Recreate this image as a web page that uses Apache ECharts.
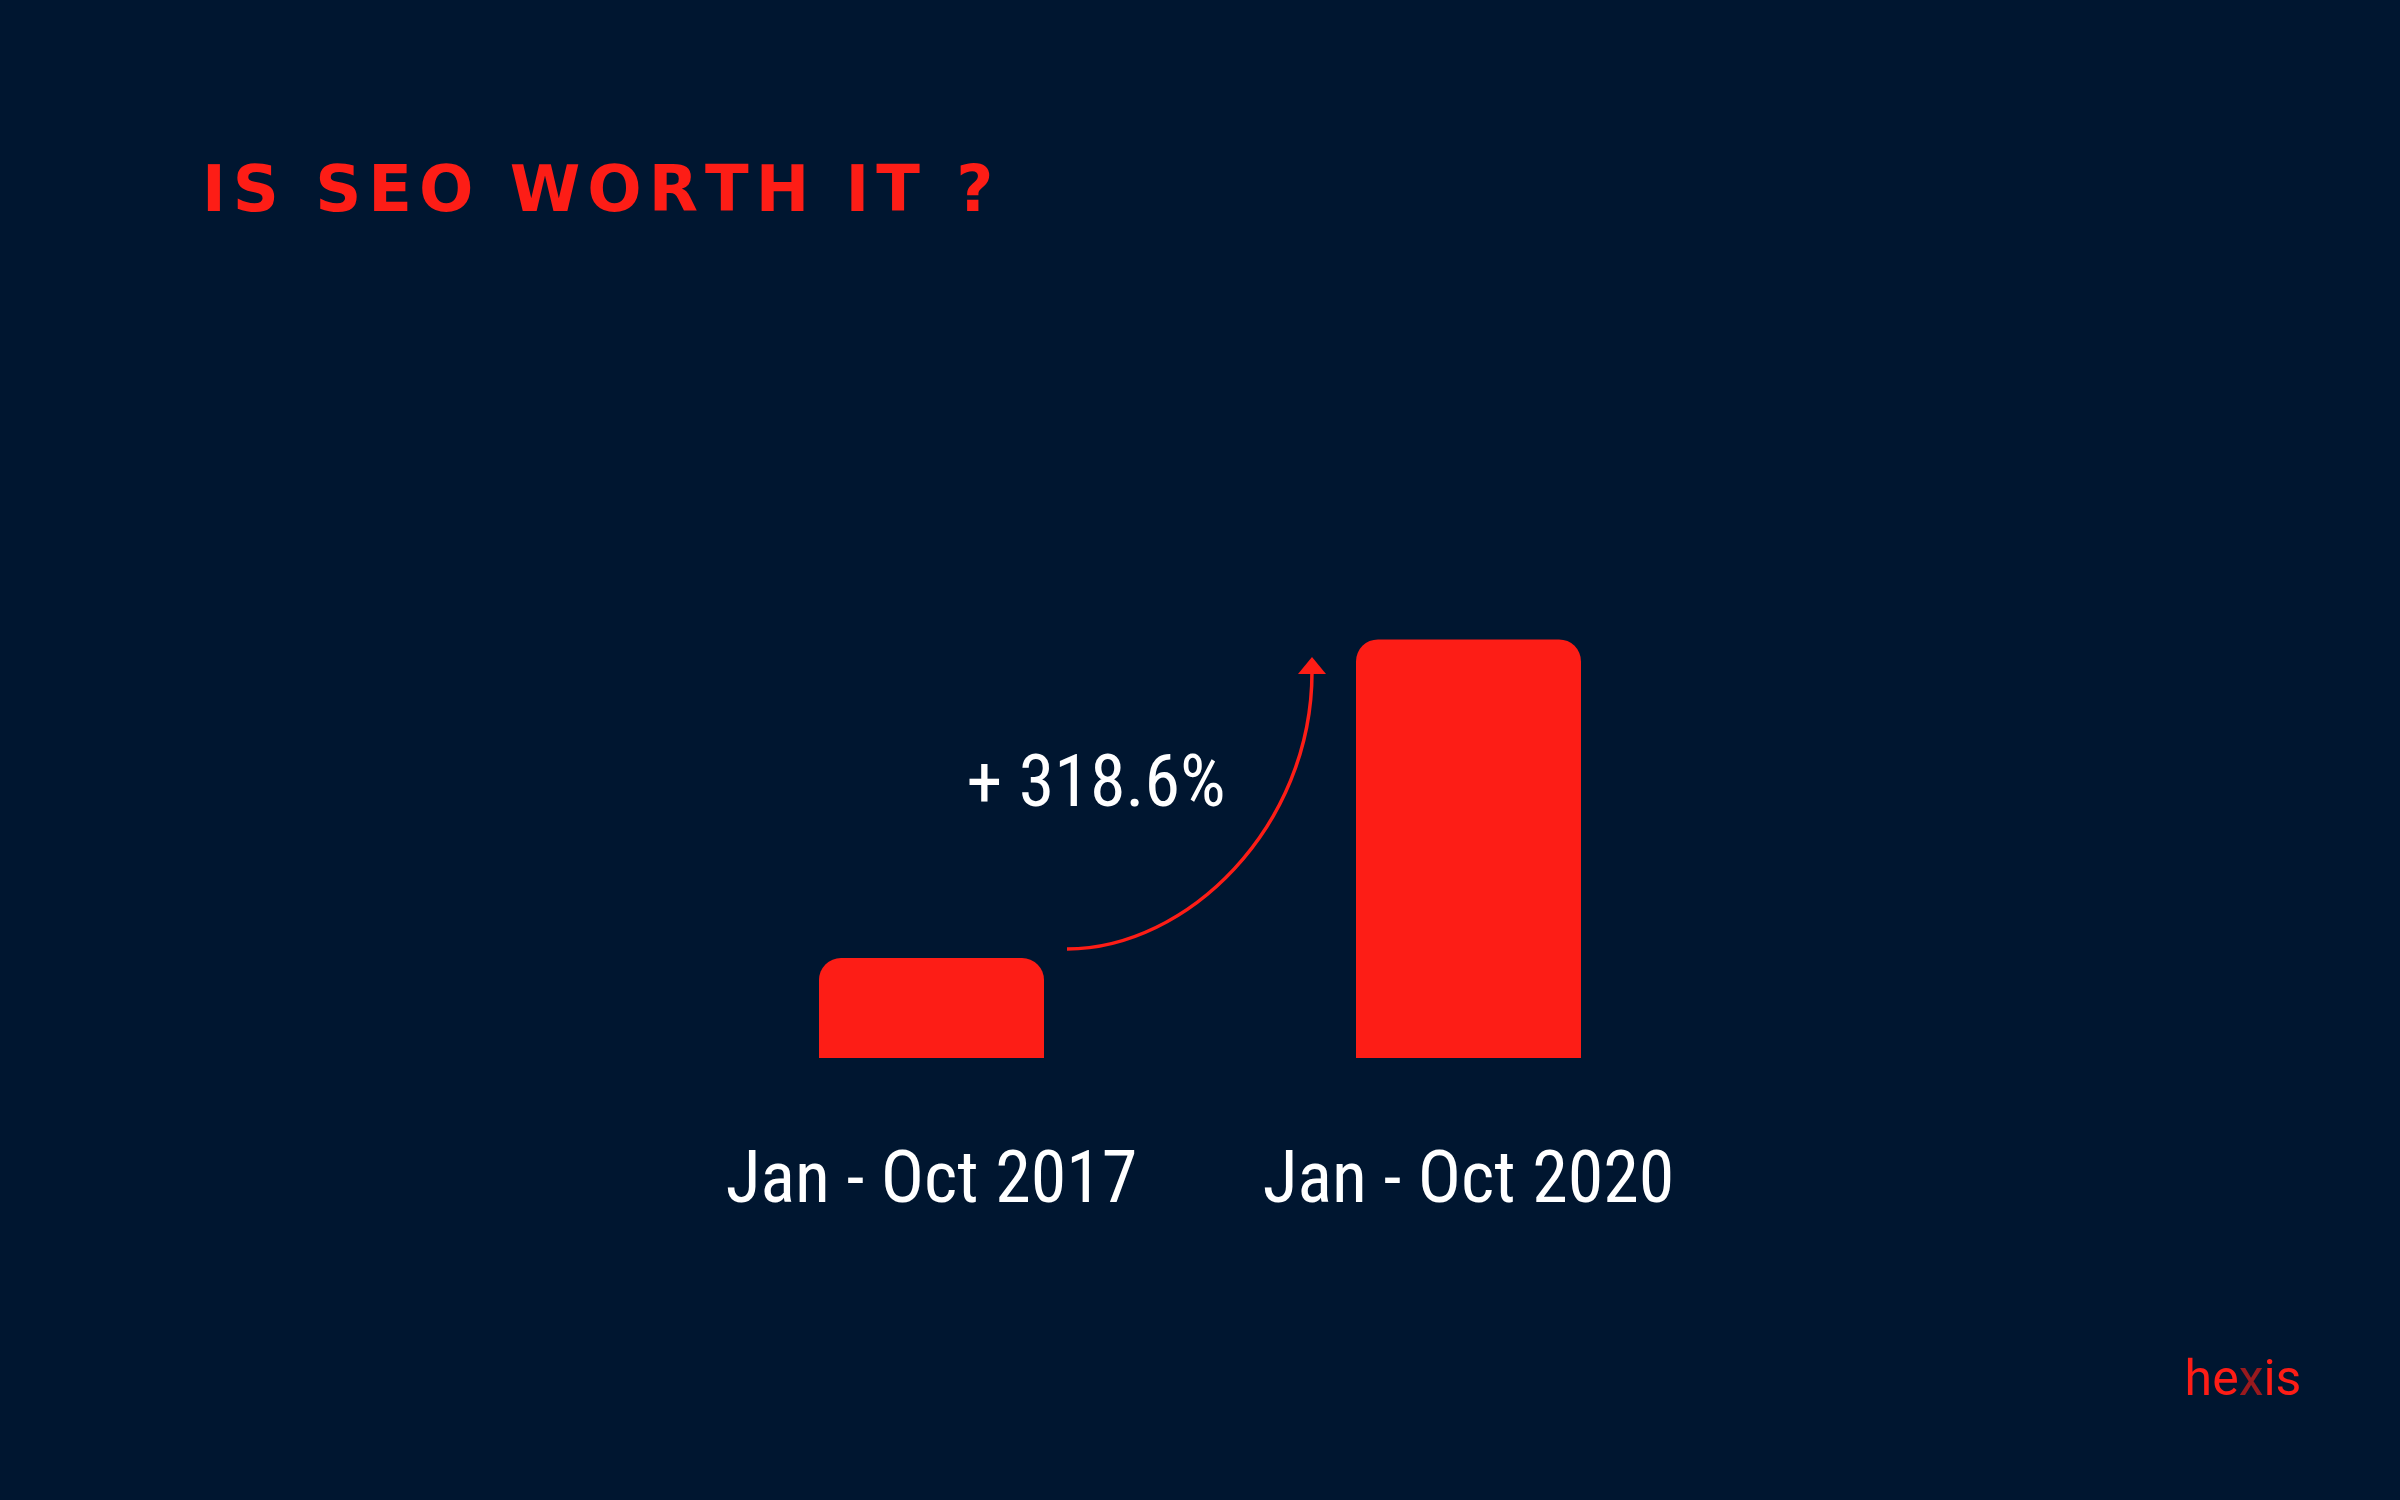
<!DOCTYPE html>
<html>
<head>
<meta charset="utf-8">
<script src="https://cdn.jsdelivr.net/npm/echarts@6/dist/echarts.min.js"></script>
<style>
html,body{margin:0;padding:0;background:#001630;}
#c{width:2400px;height:1500px;}
</style>
</head>
<body>
<div id="c"></div>
<script>
const categories = ['Jan - Oct 2017', 'Jan - Oct 2020'];
const values = [100, 418.6];
const titleText = 'IS SEO WORTH IT ?';
const brandParts = ['he', 'x', 'is'];

const RED = '#fd1d16';
const BG = '#001630';
const growth = '+ ' + ((values[1] / values[0] - 1) * 100).toFixed(1) + '%';
const NARROW = '"Liberation Sans Narrow", "Roboto Condensed", Roboto, sans-serif';

// letter-spaced title: each character as its own rich token with right padding
const titleRich = titleText.split('').map(c => '{s|' + c + '}').join('');

const chart = echarts.init(document.getElementById('c'), null, {renderer: 'canvas'});
chart.setOption({
  backgroundColor: BG,
  animation: false,
  grid: {left: 663, right: 663, top: 558, bottom: 442, containLabel: false},
  xAxis: {
    type: 'category',
    data: categories,
    axisLine: {show: false},
    axisTick: {show: false},
    axisLabel: {interval: 0, hideOverlap: false, color: '#ffffff', fontSize: 72, fontFamily: NARROW, margin: 90}
  },
  yAxis: {
    type: 'value', min: 0, max: 500,
    show: false,
    splitLine: {show: false}
  },
  series: [{
    type: 'bar',
    data: values,
    barWidth: 225,
    itemStyle: {color: RED, borderRadius: [22, 22, 0, 0]}
  }],
  graphic: [
    {
      type: 'text',
      x: 202, y: 194,
      style: {
        text: titleRich,
        align: 'left', verticalAlign: 'middle',
        rich: {
          s: {fill: RED, fontSize: 64, fontWeight: 'bold', fontFamily: 'DejaVu Sans', padding: [0, 7, 0, 0]}
        }
      }
    },
    {
      type: 'bezierCurve',
      shape: {x1: 1067, y1: 949, x2: 1312, y2: 672, cpx1: 1187, cpy1: 949, cpx2: 1312, cpy2: 827},
      style: {stroke: RED, lineWidth: 3.5, fill: null}
    },
    {
      type: 'polygon',
      shape: {points: [[1312, 657], [1298, 674], [1326, 674]]},
      style: {fill: RED}
    },
    {
      type: 'text',
      x: 1096, y: 788,
      style: {text: growth, fill: '#ffffff', fontSize: 72, fontFamily: NARROW, align: 'center', verticalAlign: 'middle'}
    },
    {
      type: 'text',
      x: 2243, y: 1382,
      style: {
        text: '{a|' + brandParts[0] + '}{b|' + brandParts[1] + '}{a|' + brandParts[2] + '}',
        align: 'center', verticalAlign: 'middle',
        rich: {
          a: {fill: RED, fontSize: 50, fontFamily: 'Roboto'},
          b: {fill: '#9a1a1e', fontSize: 50, fontFamily: 'Roboto'}
        }
      }
    }
  ]
});
</script>
</body>
</html>
